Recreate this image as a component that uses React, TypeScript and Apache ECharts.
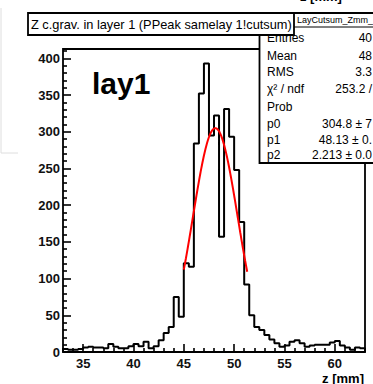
import { useEffect, useRef } from "react";
import * as echarts from "echarts";

// Histogram binning (mm) and bin contents
const binLow = 33;
const binWidth = 0.5;
const xMin = 33;
const xMax = 63;
const counts = [
  4, 3, 3, 4, 6, 7, 6, 6, 5, 11, 7, 5, 5, 8, 11, 8, 14, 5, 8, 16,
  26, 34, 75, 48, 121, 116, 284, 352, 393, 295, 322, 157, 331, 293, 248, 177, 92, 50, 34, 30,
  23, 17, 12, 7, 9, 14, 16, 12, 7, 9, 10, 10, 10, 13, 15, 9, 6, 3, 6, 5,
];

// Gaussian fit parameters and fit range
const p0 = 304.8;
const p1 = 48.13;
const p2 = 2.213;
const fitMin = 45.0;
const fitMax = 51.3;

// Axis ticks
const xMajorTicks = [35, 40, 45, 50, 55, 60];
const yMajorTicks = [0, 50, 100, 150, 200, 250, 300, 350, 400];

// Texts
const titleText = "Z c.grav. in layer 1 (PPeak samelay 1!cutsum)";
const statsName = "LayCutsum_Zmm_";
const statsLabels = ["Entries", "Mean", "RMS", "χ² / ndf", "Prob", "p0", "p1", "p2"];
const statsValues = ["40", "48", "3.3", "253.2 /", "", "304.8 ± 7", "48.13 ± 0.", "2.213 ± 0.0"];
const padLabel = "lay1";
const xTitle = "z [mm]";

const FONT = '"Liberation Sans", Arial, Helvetica, sans-serif';

function txt(x: number, y: number, s: string, size: number, opts: any = {}) {
  const align = opts.align || "left";
  return {
    type: "text",
    x,
    y,
    z: opts.z ?? 101,
    silent: true,
    style: {
      text: s,
      fill: opts.fill || "#000",
      font: `${opts.bold ? "bold " : ""}${size}px ${FONT}`,
      align,
      textAlign: align,
      verticalAlign: "middle",
      textVerticalAlign: "middle",
    },
  };
}

export default function App() {
  const ref = useRef<HTMLDivElement>(null);

  useEffect(() => {
    if (!ref.current) return;
    const chart = echarts.init(ref.current, null, { renderer: "svg" });

    const yMax = Math.max(...counts) * 1.05;

    const xMinorTicks: number[] = [];
    for (let v = Math.ceil(xMin); v <= xMax; v++) if (v % 5 !== 0) xMinorTicks.push(v);
    const yMinorTicks: number[] = [];
    for (let v = 10; v <= yMax; v += 10) if (v % 50 !== 0) yMinorTicks.push(v);

    // step outline of the histogram
    const histPts: number[][] = [[binLow, 0]];
    counts.forEach((c, i) => histPts.push([binLow + i * binWidth, c]));
    histPts.push([binLow + counts.length * binWidth, counts[counts.length - 1]]);
    histPts.push([binLow + counts.length * binWidth, 0]);

    // fitted gaussian
    const fitPts: number[][] = [];
    const nFit = 120;
    for (let i = 0; i <= nFit; i++) {
      const x = fitMin + ((fitMax - fitMin) * i) / nFit;
      fitPts.push([x, p0 * Math.exp(-0.5 * ((x - p1) / p2) ** 2)]);
    }

    const tickLabel = { fontFamily: FONT, fontWeight: "bold", fontSize: 13, color: "#111" };

    const rowY = [38, 55.5, 72, 89, 106.5, 124, 140, 155];

    const graphics: any[] = [
      // faint edge at the far left
      {
        type: "polyline",
        z: 99,
        silent: true,
        shape: { points: [[1, 8], [1, 153], [18, 153]] },
        style: { stroke: "#dedede", lineWidth: 1, fill: "none" },
      },
      // stats box
      {
        type: "rect",
        z: 100,
        silent: true,
        shape: { x: 259.5, y: 13, width: 140, height: 150 },
        style: { fill: "#fff", stroke: "#000", lineWidth: 1.8 },
      },
      {
        type: "line",
        z: 101,
        silent: true,
        shape: { x1: 294, y1: 27, x2: 380, y2: 27 },
        style: { stroke: "#000", lineWidth: 1 },
      },
      txt(297, 20, statsName, 9),
      ...statsLabels.map((s, i) => txt(267, rowY[i], s, 12)),
      ...statsValues
        .map((s, i) => ({ s, i }))
        .filter((v) => v.s !== "")
        .map((v) => txt(372, rowY[v.i], v.s, 12, { align: "right" })),
      // title box
      {
        type: "rect",
        z: 102,
        silent: true,
        shape: { x: 28, y: 13, width: 266, height: 22 },
        style: { fill: "#fff", stroke: "#000", lineWidth: 1.8 },
      },
      txt(31, 24, titleText, 12.8, { z: 103 }),
      // pad label
      txt(92, 83, padLabel, 30, { bold: true }),
      // x axis title
      txt(364, 378, xTitle, 13, { bold: true, align: "right" }),
      txt(300, -3.5, xTitle, 13, { bold: true }),
    ];

    chart.setOption({
      animation: false,
      backgroundColor: "#fff",
      grid: {
        left: 63,
        top: 49,
        width: 302,
        height: 303,
        show: true,
        borderColor: "#000",
        borderWidth: 1.8,
        backgroundColor: "transparent",
      },
      xAxis: [
        {
          type: "value",
          min: xMin,
          max: xMax,
          position: "bottom",
          axisLine: { show: false },
          axisTick: {
            show: true,
            inside: true,
            length: 8,
            customValues: xMajorTicks,
            lineStyle: { color: "#000", width: 1.6 },
          },
          axisLabel: { ...tickLabel, margin: 5, customValues: xMajorTicks },
          splitLine: { show: false },
        },
        {
          type: "value",
          min: xMin,
          max: xMax,
          position: "bottom",
          axisLine: { show: false },
          axisTick: {
            show: true,
            inside: true,
            length: 4,
            customValues: xMinorTicks,
            lineStyle: { color: "#000", width: 1.6 },
          },
          axisLabel: { show: false },
          splitLine: { show: false },
        },
      ],
      yAxis: [
        {
          type: "value",
          min: 0,
          max: yMax,
          position: "left",
          axisLine: { show: false },
          axisTick: {
            show: true,
            inside: true,
            length: 8,
            customValues: yMajorTicks,
            lineStyle: { color: "#000", width: 1.6 },
          },
          axisLabel: { ...tickLabel, margin: 3, customValues: yMajorTicks },
          splitLine: { show: false },
        },
        {
          type: "value",
          min: 0,
          max: yMax,
          position: "left",
          axisLine: { show: false },
          axisTick: {
            show: true,
            inside: true,
            length: 4,
            customValues: yMinorTicks,
            lineStyle: { color: "#000", width: 1.6 },
          },
          axisLabel: { show: false },
          splitLine: { show: false },
        },
      ],
      series: [
        {
          type: "line",
          name: "hist",
          xAxisIndex: 0,
          yAxisIndex: 0,
          step: "end",
          data: histPts,
          symbol: "none",
          lineStyle: { color: "#000", width: 2 },
          silent: true,
          z: 3,
        },
        {
          type: "line",
          name: "fit",
          xAxisIndex: 0,
          yAxisIndex: 0,
          data: fitPts,
          symbol: "none",
          lineStyle: { color: "#f00", width: 2 },
          silent: true,
          z: 4,
        },
      ],
      graphic: { elements: graphics },
    });

    return () => chart.dispose();
  }, []);

  return (
    <div
      ref={ref}
      style={{ position: "fixed", left: 0, top: 0, width: 373, height: 384, background: "#fff" }}
    />
  );
}
